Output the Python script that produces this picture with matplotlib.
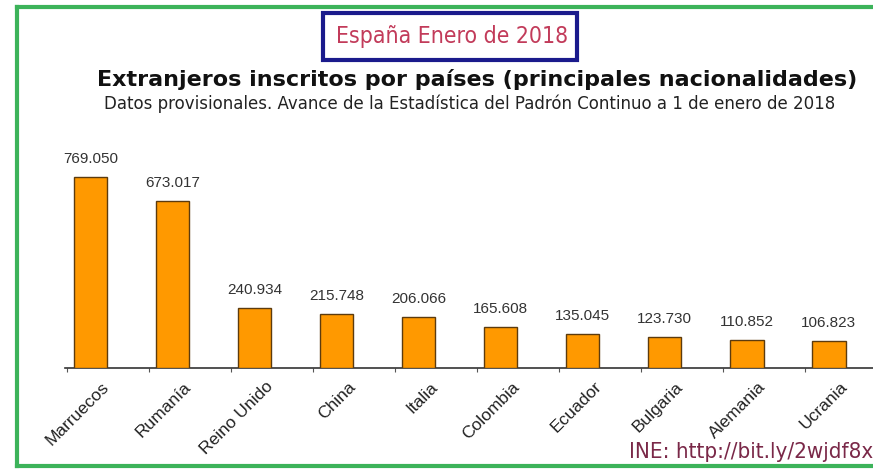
import matplotlib
matplotlib.use("Agg")
import matplotlib.pyplot as plt
import matplotlib.transforms as mtransforms
from matplotlib.lines import Line2D
from matplotlib.patches import Rectangle
import numpy as np

# Datos: extranjeros inscritos por países, 1 enero 2018
paises = ["Marruecos", "Rumanía", "Reino Unido", "China", "Italia",
          "Colombia", "Ecuador", "Bulgaria", "Alemania", "Ucrania"]
inscritos = [769050, 673017, 240934, 215748, 206066,
             165608, 135045, 123730, 110852, 106823]
etiquetas = ["769.050", "673.017", "240.934", "215.748", "206.066",
             "165.608", "135.045", "123.730", "110.852", "106.823"]

W, H = 873, 471
fig = plt.figure(figsize=(W / 100, H / 100), dpi=100)
fig.patch.set_facecolor("white")

# Axes placed in pixel terms of the reference
ax = fig.add_axes([65 / W, (H - 368) / H, (W - 65) / W, (368 - 150) / H])
x = np.arange(len(paises))
ax.bar(x, inscritos, width=0.41, color="#ff9900", edgecolor="#5c3b0e", linewidth=1.0, zorder=3)

ax.set_xlim(-0.311, 9.54)
ax.set_ylim(0, 878000)

# value labels above bars
for xi, v, t in zip(x, inscritos, etiquetas):
    ax.annotate(t, (xi, v), xytext=(0, 8), textcoords="offset points",
                ha="center", va="bottom", fontsize=11, color="#333333",
                family="Liberation Sans")

for s in ["top", "right", "left"]:
    ax.spines[s].set_visible(False)
ax.spines["bottom"].set_color("#333333")
ax.spines["bottom"].set_linewidth(1.2)
ax.set_yticks([])

# boundary tick marks between categories
ax.set_xticks(x - 0.287, minor=True)
ax.tick_params(axis="x", which="minor", length=3, color="#555555", width=0.8)
ax.set_xticks(x)
ax.set_xticklabels(paises, rotation=45, ha="right", rotation_mode="anchor",
                   fontsize=12.5, family="Liberation Sans", color="#222222")
ax.tick_params(axis="x", which="major", length=0, pad=8)
offset = mtransforms.ScaledTranslation(11 / 100, 0, fig.dpi_scale_trans)
for lab in ax.get_xticklabels():
    lab.set_transform(lab.get_transform() + offset)

# titles
fig.text(97 / W, 1 - 80 / H, "Extranjeros inscritos por países (principales nacionalidades)",
         fontsize=16, fontweight="bold", family="DejaVu Sans", va="center", ha="left",
         color="#111111")
fig.text(104 / W, 1 - 104 / H,
         "Datos provisionales. Avance de la Estadística del Padrón Continuo a 1 de enero de 2018",
         fontsize=12, family="DejaVu Sans", va="center", ha="left", color="#222222")

# boxed header
fig.patches.append(Rectangle((323 / W, 1 - 60 / H), (577 - 323) / W, (60 - 13) / H,
                             transform=fig.transFigure, fill=False,
                             edgecolor="#1a1a8c", linewidth=3))
fig.text(452 / W, 1 - 37 / H, "España Enero de 2018", fontsize=16.5,
         family=["DejaVu Sans Condensed", "DejaVu Sans"], fontstretch="condensed",
         color="#c23b5a", ha="center", va="center")

# source
fig.text(W / W, 1 - 452 / H, "INE: http://bit.ly/2wjdf8x", fontsize=16,
         family=["DejaVu Sans Condensed", "DejaVu Sans"], fontstretch="condensed",
         color="#7a2848", ha="right", va="center")

# green frame (right side cut off)
green = "#3cb35a"
fig.add_artist(Line2D([16.5 / W, 16.5 / W], [1 - 7 / H, 1 - 466 / H], color=green, lw=3))
fig.add_artist(Line2D([16.5 / W, 1.0], [1 - 7 / H, 1 - 7 / H], color=green, lw=3))
fig.add_artist(Line2D([16.5 / W, 1.0], [1 - 466 / H, 1 - 466 / H], color=green, lw=3))

fig.savefig("out.png", dpi=100)
